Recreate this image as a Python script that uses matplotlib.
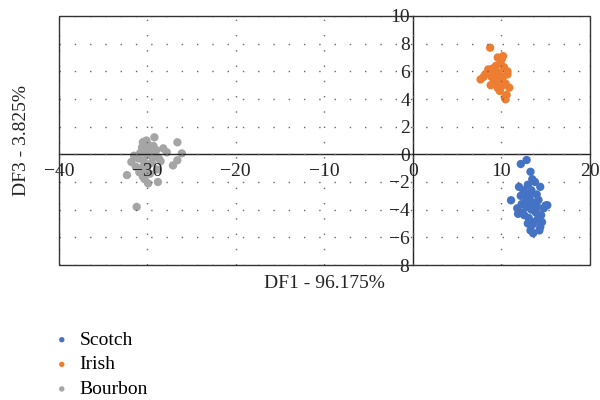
import matplotlib
matplotlib.use("Agg")
import matplotlib.pyplot as plt
from matplotlib.patches import Rectangle

plt.rcParams['font.family'] = ['Liberation Serif', 'DejaVu Serif']
plt.rcParams['axes.unicode_minus'] = True

# Discriminant scores
scotch_x = [12.86, 12.2, 13.3, 11.1, 15.2, 13.3, 14.4, 12.0, 14.4, 13.5,
            13.0, 12.5, 13.8, 14.0, 12.7, 13.2, 13.6, 14.2, 12.3, 11.8,
            12.9, 13.4, 14.8, 13.9, 12.6, 13.1, 14.1, 13.7, 12.4, 11.9,
            13.5, 14.6, 13.0, 14.3, 13.6, 13.2, 12.8, 14.0, 13.4, 12.2,
            13.9, 14.5, 15.0]
scotch_y = [-0.41, -0.7, -1.26, -3.32, -3.68, -5.5, -5.26, -2.35, -2.35, -1.8,
            -2.2, -2.6, -2.0, -2.9, -3.0, -3.2, -3.5, -3.3, -3.6, -3.9,
            -3.8, -4.0, -3.9, -4.2, -4.4, -4.6, -4.7, -4.9, -4.2, -4.3,
            -5.1, -4.9, -5.0, -5.5, -5.7, -2.8, -3.4, -3.7, -2.6, -3.0,
            -4.0, -4.4, -3.7]

irish_x = [8.74, 7.66, 10.48, 10.04, 10.69, 10.9, 9.83, 8.53, 9.6, 10.2,
           9.9, 9.4, 9.1, 8.2, 8.9, 9.7, 10.3, 10.1, 9.5, 9.2,
           8.8, 10.6, 10.4, 10.0, 9.8, 10.2, 9.3, 10.5, 10.7, 9.6,
           8.0, 9.0]
irish_y = [7.71, 5.42, 3.98, 6.87, 5.78, 4.82, 4.58, 6.14, 7.0, 7.1,
           6.6, 6.4, 6.0, 5.8, 5.6, 5.9, 6.3, 5.2, 5.5, 5.3,
           5.0, 4.3, 4.1, 4.9, 5.0, 5.6, 6.2, 5.1, 6.0, 4.8,
           5.6, 6.2]

bourbon_x = [-30.5, -29.2, -26.6, -26.1, -26.6, -27.1, -28.2, -27.8, -31.8, -32.3,
             -29.9, -28.8, -31.2, -30.1, -30.6, -30.3, -29.9, -29.6, -29.4, -30.8,
             -31.0, -30.4, -30.0, -29.5, -29.1, -28.7, -30.7, -30.2, -29.8, -29.3,
             -28.9, -31.3, -30.9, -30.5, -29.7, -30.1, -31.5, -30.4, -29.0, -28.5,
             -30.3]
bourbon_y = [0.87, 1.23, 0.87, 0.07, -0.43, -0.8, 0.43, 0.15, -0.55, -1.5,
             -2.1, -2.0, -3.8, -0.07, 0.5, 0.3, 0.7, 0.2, -0.2, 0.1,
             -0.3, -0.5, -0.9, -0.6, 0.0, -0.3, -1.0, -1.2, 0.4, 0.6,
             -1.1, -0.9, -1.3, -1.6, -1.4, 1.0, -0.1, 0.9, 0.3, -0.5,
             -1.8]

groups = ["Scotch", "Irish", "Bourbon"]
colors = ["#4472C4", "#ED7D31", "#A5A5A5"]
xticks = [-40, -30, -20, -10, 0, 10, 20]
yticks = [-8, -6, -4, -2, 0, 2, 4, 6, 8, 10]

fig = plt.figure(figsize=(6, 4), dpi=100)
ax = fig.add_axes([0.098, 0.3375, 0.885, 0.6225])

for name, xs, ys, c in zip(groups, [scotch_x, irish_x, bourbon_x],
                           [scotch_y, irish_y, bourbon_y], colors):
    ax.scatter(xs, ys, s=36, color=c, edgecolors='none', label=name, zorder=2)

ax.set_xlim(-40, 20)
ax.set_ylim(-8, 10)
ax.set_xticks(xticks)
ax.set_yticks(yticks)
ax.set_axisbelow(False)

# axes cross at the origin, box drawn separately
ax.spines['left'].set_position(('data', 0))
ax.spines['bottom'].set_position(('data', 0))
ax.spines['right'].set_visible(False)
ax.spines['top'].set_visible(False)
for s in ['left', 'bottom']:
    ax.spines[s].set_color('#222222')
    ax.spines[s].set_linewidth(1.0)
ax.add_patch(Rectangle((0, 0), 1, 1, transform=ax.transAxes, fill=False,
                       edgecolor='#333333', linewidth=1.0, zorder=4, clip_on=False))

ax.tick_params(length=0, labelsize=14, colors='#222222', pad=2)
ax.tick_params(axis='x', pad=6)
ax.grid(True, color='#666666', linestyle=(0, (1, 10)), linewidth=1.0)

ax.text(0.5, -0.075, "DF1 - 96.175%", transform=ax.transAxes, ha='center',
        va='center', fontsize=14, color='#222222')
ax.text(-0.07, 0.5, "DF3 - 3.825%", transform=ax.transAxes, ha='center',
        va='center', rotation=90, fontsize=14, color='#222222')

fig.legend(loc='upper left', bbox_to_anchor=(0.09, 0.172), frameon=False,
           fontsize=14, handlelength=0.8, handletextpad=0.5, borderpad=0,
           borderaxespad=0, labelspacing=0.36, markerscale=0.65)

fig.savefig("out.png", dpi=100)
